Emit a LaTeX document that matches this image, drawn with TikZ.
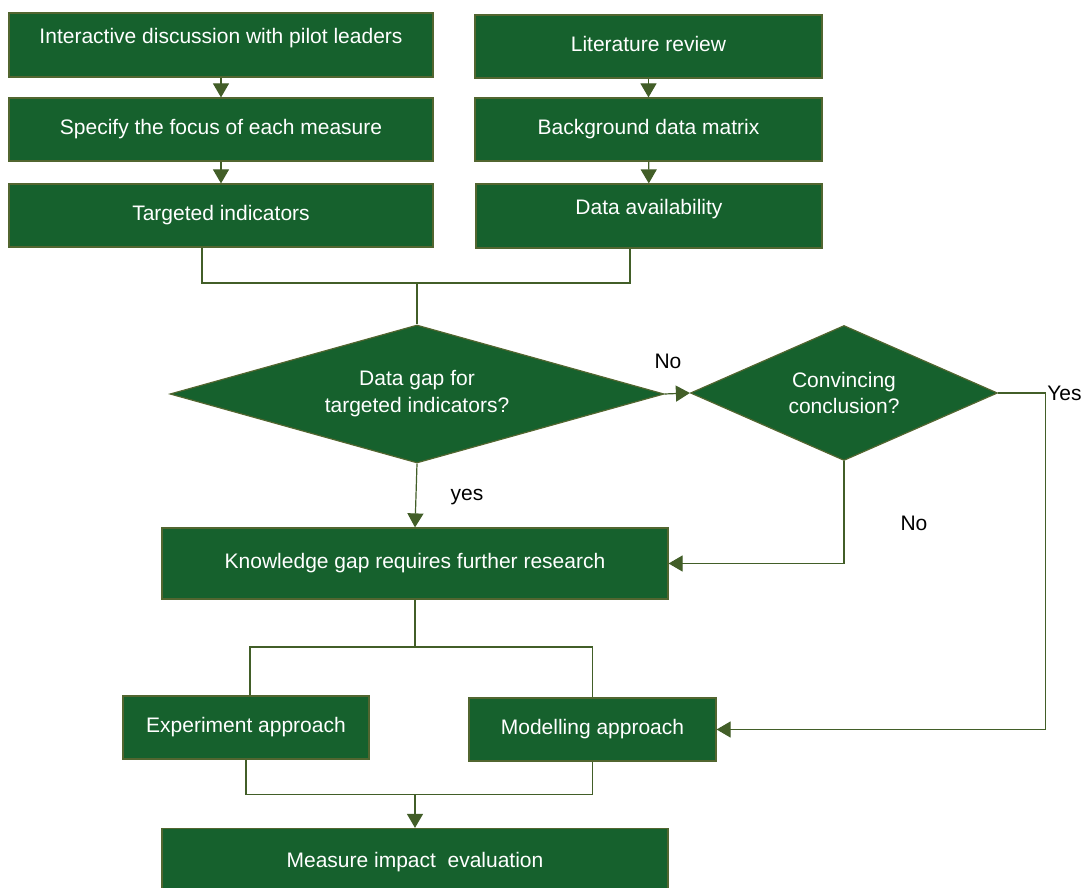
\documentclass[tikz,border=0pt]{standalone}
\usepackage{fontspec}
\setmainfont{Liberation Sans}
\usetikzlibrary{arrows.meta,shapes.geometric,calc}
\definecolor{boxfill}{RGB}{22,97,45}
\definecolor{boxedge}{RGB}{82,102,48}
\definecolor{linkcol}{RGB}{66,94,40}
\tikzset{
  procbox/.style={draw=boxedge, fill=boxfill, line width=0.6pt, text=white, inner sep=0pt,
    text height=7.6pt, text depth=2.2pt, font=\fontsize{10.5}{12.6}\selectfont},
  raised/.style={text depth=9.2pt},
  decision/.style={procbox, shape=diamond, align=center, text height=, text depth=},
  link/.style={draw=linkcol, line width=0.6pt},
  flow/.style={link, -{Triangle[length=7pt,width=8pt]}},
  lbl/.style={font=\fontsize{10.5}{12.6}\selectfont, inner sep=0pt},
}
\begin{document}
\begin{tikzpicture}[x=0.5pt, y=-0.5pt]
    \clip (0,0) rectangle (1084,888);
    % Left column
    \node[procbox, raised, minimum width=212pt, minimum height=32pt] (talk) at (221,45) {Interactive discussion with pilot leaders};
    \node[procbox, minimum width=212pt, minimum height=31.5pt] (focus) at (221,129.5) {Specify the focus of each measure};
    \node[procbox, minimum width=212pt, minimum height=31.5pt] (target) at (221,215.5) {Targeted indicators};
    % Right column
    \node[procbox, minimum width=173.5pt, minimum height=31.5pt] (review) at (648.5,46.5) {Literature review};
    \node[procbox, minimum width=173.5pt, minimum height=31.5pt] (matrix) at (648.5,129.5) {Background data matrix};
    \node[procbox, raised, minimum width=173pt, minimum height=32pt] (avail) at (649,216) {Data availability};
    % Decisions
    \node[decision, aspect=3.6, minimum width=247pt, minimum height=69pt] (gap) at (417,394) {Data gap for\\[0.9pt] targeted indicators?};
    \node[decision, aspect=2.3, minimum width=153.5pt, minimum height=67.5pt] (convince) at (844,393) {Convincing\\ conclusion?};
    % Lower boxes
    \node[procbox, minimum width=253pt, minimum height=35.5pt] (research) at (415,563.5) {Knowledge gap requires further research};
    \node[procbox, minimum width=123pt, minimum height=31.5pt] (expt) at (246,727.5) {Experiment approach};
    \node[procbox, minimum width=123.5pt, minimum height=31.5pt] (model) at (592.5,729.5) {Modelling approach};
    \node[procbox, minimum width=253pt, minimum height=33.5pt] (impact) at (415,862) {Measure impact\ \ evaluation};
    % Junction points
    \coordinate (merge) at (417,283);
    \coordinate (split) at (415,647);
    \coordinate (join) at (415,794.5);
    % Top flows
    \draw[flow] (talk) -- (focus);
    \draw[flow] (focus) -- (target);
    \draw[flow] (review) -- (matrix);
    \draw[flow] (matrix) -- (avail);
    \draw[link] ([xshift=-9.5pt]target.south) |- (merge) -| ([xshift=-9.5pt]avail.south);
    \draw[link] (merge) -- (gap.north);
    % Decision flows
    \draw[flow] (gap.south) -- (research.north);
    \node[lbl] (yeslbl) at (467,497) {yes};
    \draw[flow] (gap.east) -- (convince.west);
    \node[lbl] (nolbl) at (668,361) {No};
    \draw[flow] (convince.south) |- (research.east);
    \node[lbl] (nolow) at (914,523) {No};
    \draw[flow] (convince.east) -- ++(47,0) |- (model.east);
    \node[lbl, anchor=west] (yeslbl2) at (1047,393) {Yes};
    % Approaches
    \draw[link] (research.south) -- (split);
    \draw[link] ([xshift=2pt]expt.north) |- (split) -| (model.north);
    \draw[link] (expt.south) |- (join) -| (model.south);
    \draw[flow] (join) -- (impact.north);
  \end{tikzpicture}
\end{document}
